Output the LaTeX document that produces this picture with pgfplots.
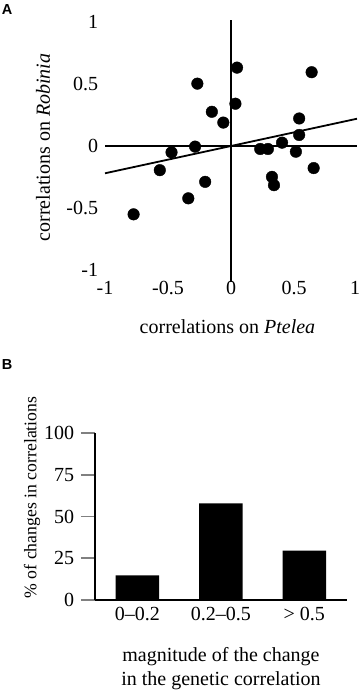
\documentclass[border=0pt]{standalone}
\usepackage{pgfplots}
\pgfplotsset{compat=1.18}
\usepackage{fontspec}
\setmainfont{Liberation Serif}
\newfontfamily\panelfont{Liberation Sans}
\newcommand\bigf{\fontsize{20bp}{24bp}\selectfont}
\begin{document}
\bigf
\begin{tikzpicture}
\path (0,0) rectangle (360bp,-693bp);
\node[anchor=center] at (7bp,-10bp) {\fontsize{14.5bp}{17bp}\panelfont\bfseries A};
\node[anchor=center] at (7bp,-365bp) {\fontsize{14.5bp}{17bp}\panelfont\bfseries B};
% Panel A
\begin{axis}[
 at={(105bp,-270bp)}, anchor=south west,
 scale only axis, width=252bp, height=248bp,
 xmin=-1, xmax=1, ymin=-1, ymax=1,
 axis lines=left, axis line style={draw=none},
 major tick length=0pt, tick style={draw=none},
 tick label style={font=\bigf},
 xticklabel style={yshift=-4bp},
 label style={font=\bigf},
 xtick={-1,-0.5,0,0.5,0.985}, xticklabels={-1,-0.5,0,0.5,1},
 ytick={-1,-0.5,0,0.5,1}, yticklabels={-1,-0.5,0,0.5,1},
 xlabel={correlations on \textit{Ptelea}},
 ylabel={correlations on \textit{Robinia}},
 every axis x label/.style={at={(axis description cs:0.486,-0.23)},anchor=center},
 every axis y label/.style={at={(axis description cs:-0.246,0.494)},anchor=center,rotate=90},
 clip=false,
]
\addplot[black, line width=1.8bp] coordinates {(-1,0) (1,0)};
\addplot[black, line width=1.8bp] coordinates {(0,-1.1) (0,1.02)};
\addplot[black, line width=1.8bp] coordinates {(-1,-0.22) (1,0.22)};
\addplot[only marks, mark=*, mark size=5.8bp, black] coordinates {
(-0.773,-0.551) (-0.565,-0.195) (-0.472,-0.051) (-0.339,-0.422)
(-0.285,-0.005) (-0.267,0.503) (-0.205,-0.289) (-0.152,0.276)
(-0.061,0.189) (0.035,0.341) (0.048,0.632) (0.232,-0.024)
(0.293,-0.024) (0.325,-0.249) (0.341,-0.316) (0.405,0.027)
(0.515,-0.046) (0.541,0.222) (0.541,0.089) (0.640,0.595) (0.656,-0.178)};
\end{axis}
% Panel B
\begin{axis}[
 at={(95bp,-600bp)}, anchor=south west,
 scale only axis, width=252bp, height=167bp,
 xmin=-0.507, xmax=2.511, ymin=0, ymax=100,
 axis x line*=bottom, axis y line*=left,
 axis line style={line width=1.8bp},
 ybar, bar width=43.5bp,
 tick label style={font=\bigf},
 label style={font=\bigf},
 xtick={0,1,2}, xticklabels={0–0.2,0.2–0.5,> 0.5},
 xtick style={draw=none},
 ytick={0,25,50,75,100},
 ytick style={line width=1.8bp},
 xtick align=inside, ytick align=outside, major tick length=14bp,
 /pgf/number format/assume math mode=true,
 xlabel={magnitude of the change\\in the genetic correlation},
 ylabel={\fontsize{17.7bp}{21bp}\selectfont\% of changes in correlations},
 every axis x label/.style={at={(axis description cs:0.5,-0.413)},anchor=center,align=center},
 every axis y label/.style={at={(axis description cs:-0.25,0.614)},anchor=center,rotate=90},
 clip=false,
]
\addplot[fill=black, draw=none] coordinates {(0,14.7) (1,57.8) (2,29.6)};
\end{axis}
\pgfresetboundingbox
\path[use as bounding box] (0,0) rectangle (360bp,-693bp);
\end{tikzpicture}
\end{document}
